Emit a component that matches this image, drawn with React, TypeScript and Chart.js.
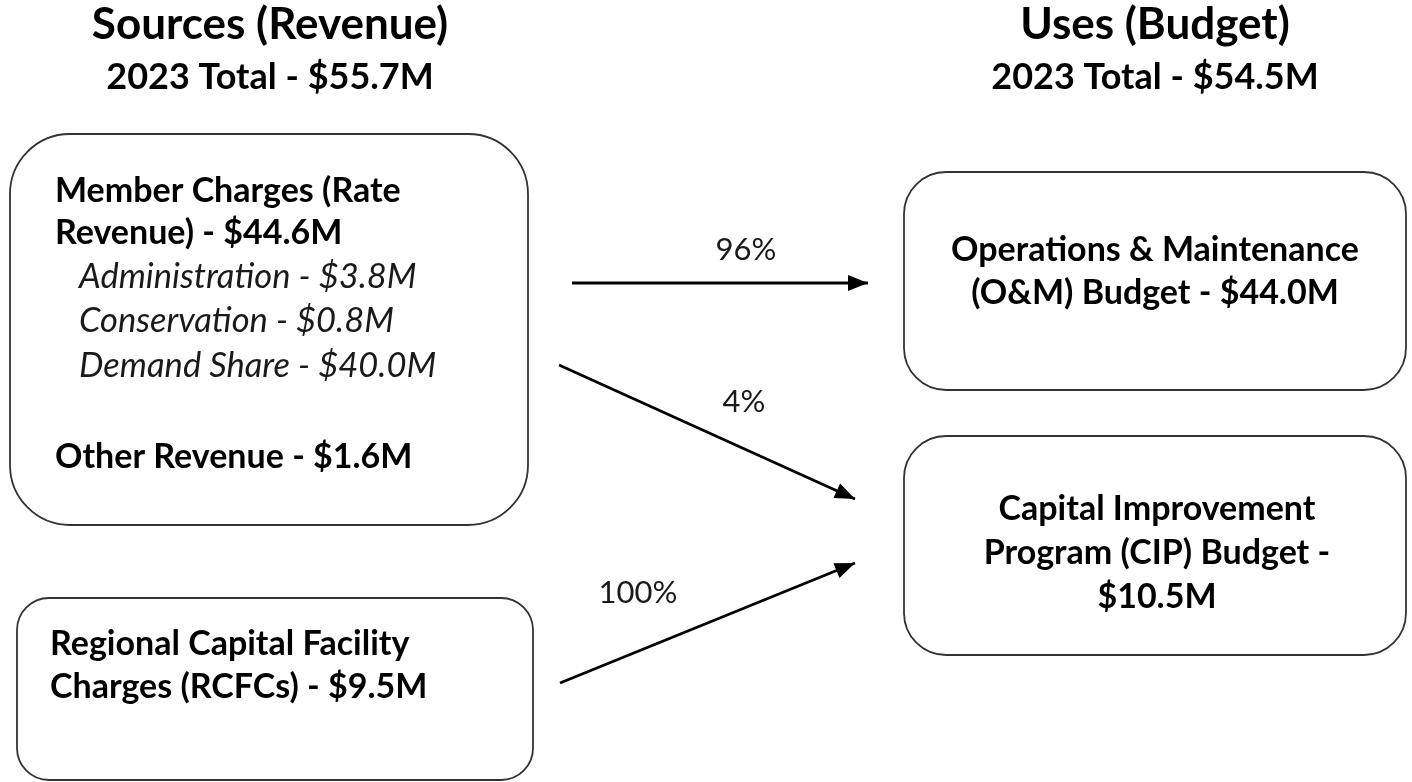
import React, { useEffect, useRef } from "react";
import { Chart, registerables } from "chart.js";

Chart.register(...registerables);

// ---------- data ----------
const fiscalYear = 2023;
const sourceHeader = "Sources (Revenue)";
const useHeader = "Uses (Budget)";
const sourceTotal = 55.7;
const useTotal = 54.5;

const memberChargeLines = ["Member Charges (Rate", "Revenue)"];
const memberChargeTotal = 44.6;
const memberComponentNames = ["Administration", "Conservation", "Demand Share"];
const memberComponentValues = [3.8, 0.8, 40.0];
const otherRevenueName = "Other Revenue";
const otherRevenueValue = 1.6;
const rcfcLines = ["Regional Capital Facility", "Charges (RCFCs)"];
const rcfcValue = 9.5;
const omLines = ["Operations & Maintenance", "(O&M) Budget"];
const omValue = 44.0;
const cipLines = ["Capital Improvement", "Program (CIP) Budget -"];
const cipValue = 10.5;
const flowNames = ["Member Charges to O&M", "Member Charges to CIP", "RCFCs to CIP"];
const flowShares = [96, 4, 100];

// ---------- layout (diagram coordinates on a 1412 x 782 value grid) ----------
const W = 1412;
const H = 782;
const boxes = [
  { x0: 10, y0: 134, x1: 528, y1: 525, r: 60 },
  { x0: 17, y0: 598, x1: 533, y1: 780, r: 32 },
  { x0: 904, y0: 172, x1: 1406, y1: 390, r: 42 },
  { x0: 904, y0: 436, x1: 1406, y1: 655, r: 42 },
];
const flowPaths = [
  [
    { x: 572, y: 283 },
    { x: 868, y: 283 },
  ],
  [
    { x: 559, y: 365 },
    { x: 855, y: 499 },
  ],
  [
    { x: 560, y: 683 },
    { x: 855, y: 563 },
  ],
];
const flowLabelPos = [
  { x: 746, y: 260 },
  { x: 744, y: 412 },
  { x: 638, y: 603 },
];

const FONT = "Lato, 'Open Sans', sans-serif";
const money = (v: number) => `$${v.toFixed(1)}M`;

type TextItem = {
  text: string;
  x: number;
  y: number;
  size: number;
  weight?: string;
  style?: string;
  align?: CanvasTextAlign;
};

const BODY = 34;

function buildTexts(): TextItem[] {
  const t: TextItem[] = [];
  t.push({ text: sourceHeader, x: 270, y: 39, size: 44, weight: "bold", align: "center" });
  t.push({ text: `${fiscalYear} Total - ${money(sourceTotal)}`, x: 270, y: 89, size: 36, weight: "bold", align: "center" });
  t.push({ text: useHeader, x: 1155, y: 39, size: 44, weight: "bold", align: "center" });
  t.push({ text: `${fiscalYear} Total - ${money(useTotal)}`, x: 1155, y: 89, size: 36, weight: "bold", align: "center" });

  t.push({ text: memberChargeLines[0], x: 55, y: 202, size: BODY, weight: "bold" });
  t.push({ text: `${memberChargeLines[1]} - ${money(memberChargeTotal)}`, x: 55, y: 244, size: BODY, weight: "bold" });
  const compBase = [288, 332, 377];
  memberComponentNames.forEach((n, i) => {
    t.push({ text: `${n} - ${money(memberComponentValues[i])}`, x: 79, y: compBase[i], size: 34.5, style: "italic" });
  });
  t.push({ text: `${otherRevenueName} - ${money(otherRevenueValue)}`, x: 55, y: 468, size: BODY, weight: "bold" });

  t.push({ text: rcfcLines[0], x: 50, y: 655, size: BODY, weight: "bold" });
  t.push({ text: `${rcfcLines[1]} - ${money(rcfcValue)}`, x: 50, y: 698, size: BODY, weight: "bold" });

  t.push({ text: omLines[0], x: 1155, y: 261, size: BODY, weight: "bold", align: "center" });
  t.push({ text: `${omLines[1]} - ${money(omValue)}`, x: 1155, y: 304, size: BODY, weight: "bold", align: "center" });

  t.push({ text: cipLines[0], x: 1157, y: 520, size: BODY, weight: "bold", align: "center" });
  t.push({ text: cipLines[1], x: 1157, y: 564, size: BODY, weight: "bold", align: "center" });
  t.push({ text: money(cipValue), x: 1157, y: 608, size: BODY, weight: "bold", align: "center" });

  flowShares.forEach((s, i) => {
    t.push({ text: `${s}%`, x: flowLabelPos[i].x, y: flowLabelPos[i].y, size: 31, align: "center" });
  });
  return t;
}

const diagramPlugin = {
  id: "diagram",
  beforeDatasetsDraw(chart: any) {
    const { ctx, scales } = chart;
    const px = (v: number) => scales.x.getPixelForValue(v);
    const py = (v: number) => scales.y.getPixelForValue(v);
    ctx.save();
    ctx.fillStyle = "#ffffff";
    ctx.fillRect(0, 0, chart.width, chart.height);
    ctx.strokeStyle = "#333333";
    ctx.lineWidth = 1.8;
    boxes.forEach((b) => {
      const x0 = px(b.x0), x1 = px(b.x1), y0 = py(b.y0), y1 = py(b.y1);
      ctx.beginPath();
      ctx.roundRect(x0, y0, x1 - x0, y1 - y0, b.r);
      ctx.stroke();
    });
    ctx.restore();
  },
  afterDatasetsDraw(chart: any) {
    const { ctx, scales } = chart;
    const px = (v: number) => scales.x.getPixelForValue(v);
    const py = (v: number) => scales.y.getPixelForValue(v);
    ctx.save();
    // arrowheads
    chart.data.datasets.forEach((ds: any) => {
      const pts = ds.data;
      const a = pts[pts.length - 2];
      const b = pts[pts.length - 1];
      const ax = px(a.x), ay = py(a.y), bx = px(b.x), by = py(b.y);
      const ang = Math.atan2(by - ay, bx - ax);
      const len = 20, half = 8;
      ctx.fillStyle = "#000";
      ctx.beginPath();
      ctx.moveTo(bx, by);
      ctx.lineTo(bx - len * Math.cos(ang) + half * Math.sin(ang), by - len * Math.sin(ang) - half * Math.cos(ang));
      ctx.lineTo(bx - len * Math.cos(ang) - half * Math.sin(ang), by - len * Math.sin(ang) + half * Math.cos(ang));
      ctx.closePath();
      ctx.fill();
    });
    // texts
    ctx.textBaseline = "alphabetic";
    buildTexts().forEach((t) => {
      ctx.font = `${t.style || "normal"} ${t.weight || "normal"} ${t.size}px ${FONT}`;
      ctx.fillStyle = t.weight === "bold" ? "#000" : "#1a1a1a";
      ctx.textAlign = t.align || "left";
      ctx.fillText(t.text, px(t.x), py(t.y));
    });
    ctx.restore();
  },
};

export default function App() {
  const ref = useRef<HTMLCanvasElement | null>(null);
  useEffect(() => {
    document.body.style.margin = "0";
    if (!ref.current) return;
    const chart = new Chart(ref.current, {
      type: "scatter",
      data: {
        datasets: flowPaths.map((p, i) => ({
          label: flowNames[i],
          data: p,
          showLine: true,
          borderColor: "#000",
          borderWidth: 2.8,
          pointRadius: 0,
          fill: false,
        })),
      },
      options: {
        animation: false,
        responsive: true,
        maintainAspectRatio: false,
        layout: { padding: 0 },
        scales: {
          x: { type: "linear", min: 0, max: W, display: false },
          y: { type: "linear", min: 0, max: H, reverse: true, display: false },
        },
        plugins: { legend: { display: false }, tooltip: { enabled: false } },
      },
      plugins: [diagramPlugin],
    });
    return () => chart.destroy();
  }, []);
  return (
    <div style={{ width: W, height: H, position: "relative", background: "#fff" }}>
      <canvas ref={ref} />
    </div>
  );
}
